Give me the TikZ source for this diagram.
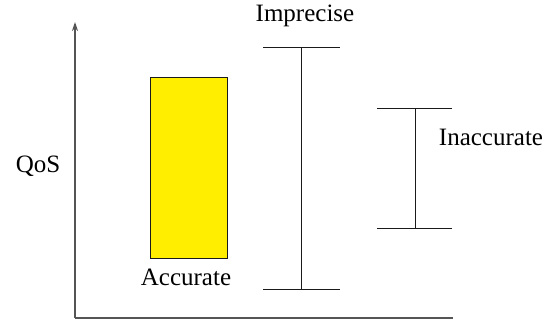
\documentclass[tikz,border=0pt]{standalone}
\usepackage{fontspec}
\setmainfont{Liberation Serif}
\usetikzlibrary{arrows.meta,positioning}
\definecolor{axisgray}{HTML}{555555}
\definecolor{barblack}{HTML}{1A1A1A}
\definecolor{accyellow}{HTML}{FFEE00}

\begin{document}
\begin{tikzpicture}[x=1pt, y=-1pt,
  axis/.style={draw=axisgray, line width=1.3pt},
  bar/.style={draw=barblack, line width=0.9pt},
  lbl/.style={font=\fontsize{25}{30}\selectfont, inner sep=0pt},
  arrow/.style={-{Stealth[length=9pt, width=6pt]}},
]
\useasboundingbox (0,0) rectangle (554,321);

% ── Axes ──
\coordinate (origin) at (75,318);
\coordinate (ytip) at (75,22);
\coordinate (xend) at (453,318);
\draw[axis, arrow] (origin) -- (ytip);
\draw[axis] (origin) -- (xend);
\node[lbl] (qos) at (38,166) {QoS};

% ── Accurate: filled box ──
\node[bar, fill=accyellow, minimum width=77pt, minimum height=181pt, inner sep=0pt] (acc) at (188.5,167.5) {};
\node[lbl] (acclbl) at (186,277) {Accurate};

% ── Imprecise: wide error bar ──
\coordinate (impTop) at (301,47);
\coordinate (impBot) at (301,289);
\coordinate (impTopL) at (263,47);
\coordinate (impTopR) at (340,47);
\coordinate (impBotL) at (263,289);
\coordinate (impBotR) at (340,289);
\draw[bar] (impTopL) -- (impTopR);
\draw[bar] (impBotL) -- (impBotR);
\draw[bar] (impTop) -- (impBot);
\node[lbl] (implbl) at (305,16) {Imprecise};

% ── Inaccurate: short error bar ──
\coordinate (inaTop) at (415,108);
\coordinate (inaBot) at (415,228);
\coordinate (inaTopL) at (377,108);
\coordinate (inaTopR) at (452,108);
\coordinate (inaBotL) at (377,228);
\coordinate (inaBotR) at (452,228);
\draw[bar] (inaTopL) -- (inaTopR);
\draw[bar] (inaBotL) -- (inaBotR);
\draw[bar] (inaTop) -- (inaBot);
\node[lbl] (inalbl) at (491,137) {Inaccurate};

\end{tikzpicture}
\end{document}
